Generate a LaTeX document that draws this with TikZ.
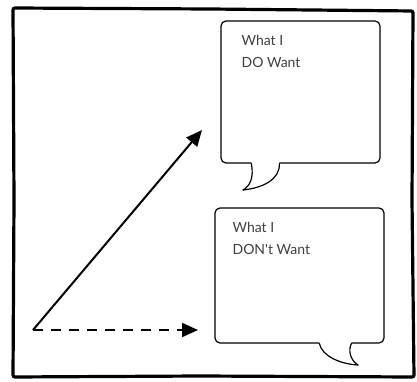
\documentclass[tikz,border=0pt]{standalone}
\usepackage{fontspec}
\setmainfont{Lato}
\usetikzlibrary{arrows.meta,calc}
\tikzset{
  bubble/.style={draw, line width=1.2pt, rounded corners=5pt, fill=white, inner sep=0pt},
  bubbletext/.style={anchor=north west, align=left, text=black!75, font=\fontsize{14}{22}\selectfont, inner sep=0pt},
  tail/.style={line width=1.2pt, line cap=round},
  pointer/.style={line width=2pt, -{Triangle[length=16pt,width=14pt]}},
}
\begin{document}
\begin{tikzpicture}[x=1pt,y=-1pt]
    \useasboundingbox (0,0) rectangle (417,382);
    % outer frame
    \draw[line width=3.2pt, rounded corners=2pt]
      (13,8) -- (210,9) -- (413,11) -- (412,200) -- (414,377)
      -- (200,376) -- (13,377) -- (14,200) -- cycle;
    % speech bubbles
    \node[bubble, minimum width=159pt, minimum height=142pt] (want) at (300.5,92) {};
    \node[bubble, minimum width=169pt, minimum height=135pt] (dontwant) at (299.5,275.5) {};
    % texts in the bubbles
    \node[bubbletext] (wanttext) at ($(want.north west)+(21,15)$) {What I\\DO Want};
    \node[bubbletext] (dontwanttext) at ($(dontwant.north west)+(18,15)$) {What I\\DON\textquotesingle t Want};
    % tail of upper bubble
    \coordinate (wanttip) at (243,190);
    \fill[white] ($(want.south west)+(31,-1.5)$) -- ($(want.south west)+(31,0)$)
      .. controls (254,178) and (250,186) .. (wanttip)
      .. controls (262,188) and (280,180) .. ($(want.south west)+(59,0)$)
      -- ($(want.south west)+(59,-1.5)$) -- cycle;
    \draw[tail] ($(want.south west)+(31,0)$) .. controls (254,178) and (250,186) .. (wanttip);
    \draw[tail] ($(want.south west)+(59,0)$) .. controls (280,180) and (262,188) .. (wanttip);
    % tail of lower bubble
    \coordinate (dontwanttip) at (358,365);
    \fill[white] ($(dontwant.south west)+(105,-1.5)$) -- ($(dontwant.south west)+(105,0)$)
      .. controls (322,356) and (340,364) .. (dontwanttip)
      .. controls (350,360) and (348,350) .. ($(dontwant.south west)+(137,0)$)
      -- ($(dontwant.south west)+(137,-1.5)$) -- cycle;
    \draw[tail] ($(dontwant.south west)+(105,0)$) .. controls (322,356) and (340,364) .. (dontwanttip);
    \draw[tail] ($(dontwant.south west)+(137,0)$) .. controls (348,350) and (350,360) .. (dontwanttip);
    % arrows
    \coordinate (start) at (33,330);
    \coordinate (doend) at (202,130);
    \coordinate (dontend) at (198,330);
    \draw[pointer] (start) -- (doend);
    \draw[pointer, dash pattern=on 10pt off 8pt] (start) -- (dontend);
\end{tikzpicture}
\end{document}
